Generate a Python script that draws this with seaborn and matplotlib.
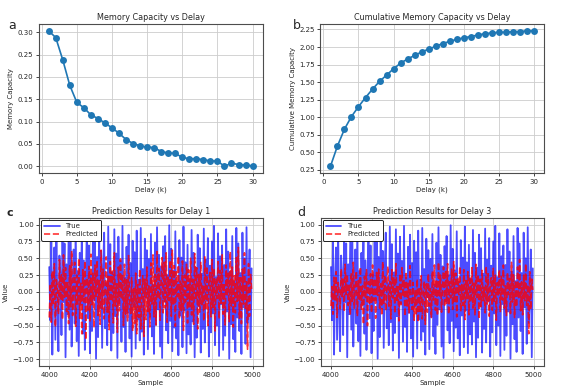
import matplotlib
matplotlib.use("Agg")
import matplotlib.pyplot as plt
import numpy as np
import seaborn as sns

# memory capacity per delay (panel a) and cumulative (panel b)
delays = list(range(1, 31))
memory_capacity = [0.303, 0.288, 0.238, 0.181, 0.143, 0.131, 0.115, 0.107, 0.097, 0.086,
                   0.074, 0.060, 0.051, 0.046, 0.043, 0.042, 0.033, 0.030, 0.029, 0.020,
                   0.017, 0.017, 0.015, 0.012, 0.012, 0.000, 0.007, 0.004, 0.003, 0.001]
cumulative_mc = [0.30, 0.59, 0.83, 1.01, 1.15, 1.28, 1.40, 1.51, 1.60, 1.69,
                 1.77, 1.83, 1.88, 1.93, 1.97, 2.01, 2.05, 2.08, 2.11, 2.13,
                 2.15, 2.17, 2.19, 2.20, 2.21, 2.21, 2.22, 2.22, 2.23, 2.23]

# test samples (every 5th sample shown)
samples = list(range(4000, 5000, 5))

true_signal = [
    0.37, -0.42, 0.81, -0.93, 0.12, 0.66, -0.71, 0.95, -0.28, -0.88, 0.54, 0.23, -0.64, 0.89, -0.15, 0.72, -0.97, 0.41, -0.33, 0.78,
    -0.56, 0.92, -0.81, 0.08, 0.63, -0.47, 0.99, -0.73, 0.31, -0.95, 0.58, -0.19, 0.84, -0.62, 0.47, -0.86, 0.17, 0.96, -0.39, 0.69,
    -0.91, 0.26, -0.58, 0.87, -0.12, 0.74, -0.99, 0.52, -0.67, 0.94, -0.24, 0.61, -0.83, 0.35, 0.88, -0.54, 0.13, -0.79, 0.97, -0.45,
    0.71, -0.87, 0.29, -0.61, 0.93, -0.36, 0.57, -0.98, 0.82, -0.17, 0.46, -0.74, 0.98, -0.52, 0.21, -0.89, 0.67, -0.31, 0.85, -0.69,
    0.43, -0.96, 0.76, -0.22, 0.59, -0.84, 0.91, -0.41, 0.18, -0.72, 0.95, -0.59, 0.34, -0.93, 0.79, -0.08, 0.62, -0.85, 0.49, -0.37,
    0.86, -0.66, 0.11, -0.92, 0.73, -0.49, 0.96, -0.26, 0.55, -0.81, 0.38, -0.98, 0.68, -0.14, 0.83, -0.57, 0.25, -0.76, 0.99, -0.43,
    0.64, -0.88, 0.32, -0.53, 0.90, -0.69, 0.15, -0.94, 0.77, -0.35, 0.51, -0.82, 0.97, -0.27, 0.44, -0.91, 0.70, -0.63, 0.19, -0.78,
    0.92, -0.44, 0.58, -0.97, 0.36, -0.68, 0.85, -0.21, 0.65, -0.90, 0.27, -0.55, 0.94, -0.75, 0.48, -0.13, 0.80, -0.96, 0.39, -0.60,
    0.75, -0.32, 0.98, -0.79, 0.22, -0.50, 0.87, -0.95, 0.53, -0.18, 0.69, -0.86, 0.40, -0.65, 0.93, -0.29, 0.60, -0.99, 0.30, -0.48,
    0.83, -0.70, 0.16, -0.89, 0.95, -0.38, 0.72, -0.58, 0.28, -0.92, 0.88, -0.23, 0.50, -0.77, 0.96, -0.46, -0.12, 0.63, -0.97, 0.35,
]

pred_delay1 = [
    -0.38, 0.12, -0.45, 0.31, -0.20, 0.42, -0.52, 0.18, 0.05, -0.33, 0.48, -0.12, 0.27, -0.41, 0.55, -0.08, 0.36, -0.29, 0.15, -0.47,
    0.39, -0.22, 0.61, -0.35, 0.09, 0.44, -0.51, 0.25, -0.18, 0.50, -0.39, 0.13, -0.62, 0.33, -0.15, 0.46, -0.71, 0.21, -0.27, 0.38,
    -0.44, 0.56, -0.19, 0.29, -0.53, 0.40, -0.08, 0.47, -0.35, 0.17, -0.48, 0.62, -0.25, 0.34, -0.40, 0.07, 0.52, -0.30, 0.23, -0.56,
    0.45, -0.14, 0.31, -0.46, 0.58, -0.21, 0.12, -0.60, 0.37, -0.28, 0.49, -0.11, 0.26, -0.50, 0.41, -0.33, 0.18, -0.43, 0.54, -0.16,
    -0.32, 0.21, -0.58, 0.05, -0.47, 0.28, -0.62, 0.11, -0.38, 0.34, -0.55, -0.02, 0.24, -0.66, 0.19, -0.41, 0.37, -0.29, 0.09, -0.52,
    0.43, -0.18, 0.55, -0.37, 0.26, -0.49, 0.60, -0.10, 0.35, -0.42, 0.17, 0.51, -0.31, 0.44, -0.24, 0.58, -0.45, 0.22, -0.13, 0.47,
    -0.36, 0.62, -0.20, 0.39, -0.51, 0.30, -0.07, 0.53, -0.40, 0.16, -0.28, 0.46, -0.57, 0.25, -0.15, 0.41, -0.46, 0.33, -0.22, 0.50,
    -0.34, 0.19, -0.48, 0.57, -0.12, 0.36, -0.55, 0.27, -0.30, 0.44, -0.19, 0.10, -0.43, 0.52, -0.26, 0.38, -0.50, 0.14, 0.29, -0.37,
    0.48, -0.23, 0.35, -0.58, 0.20, -0.10, 0.45, -0.40, 0.32, -0.17, 0.55, -0.33, 0.13, -0.49, 0.40, -0.06, 0.28, -0.44, 0.60, -0.21,
    0.37, -0.52, 0.24, -0.31, 0.51, -0.14, 0.66, -0.39, 0.21, -0.47, 0.34, -0.18, 0.58, -0.27, 0.15, -0.85, 0.42, -0.36, 0.26, 0.04,
]

pred_delay3 = [
    -0.21, 0.08, -0.33, 0.22, -0.12, 0.30, -0.38, 0.14, 0.02, -0.25, 0.34, -0.07, 0.19, -0.29, 0.41, -0.04, 0.26, -0.20, 0.10, -0.34,
    0.28, -0.15, 0.44, -0.24, 0.06, 0.31, -0.36, 0.17, -0.11, 0.37, -0.27, 0.09, -0.48, 0.23, -0.10, 0.33, -0.50, 0.15, -0.19, 0.27,
    -0.31, 0.40, -0.13, 0.20, -0.39, 0.29, -0.05, 0.34, -0.24, 0.12, -0.35, 0.45, -0.17, 0.25, -0.28, 0.05, 0.38, -0.21, 0.16, -0.40,
    0.33, -0.09, 0.22, -0.32, 0.42, -0.15, 0.08, -0.43, 0.27, -0.19, 0.36, -0.07, 0.18, -0.36, 0.30, -0.23, 0.13, -0.31, 0.39, -0.11,
    -0.26, 0.14, -0.42, 0.02, -0.35, 0.19, -0.45, 0.07, -0.29, 0.24, -0.40, -0.03, 0.16, -0.48, 0.12, -0.30, 0.27, -0.21, 0.05, -0.38,
    0.31, -0.12, 0.40, -0.27, 0.18, -0.35, 0.44, -0.06, 0.25, -0.30, 0.12, 0.37, -0.22, 0.32, -0.17, 0.42, -0.33, 0.15, -0.09, 0.34,
    -0.26, 0.45, -0.14, 0.28, -0.37, 0.21, -0.04, 0.38, -0.29, 0.11, -0.20, 0.33, -0.41, 0.17, -0.10, 0.30, -0.34, 0.23, -0.15, 0.36,
    -0.24, 0.13, -0.35, 0.41, -0.08, 0.26, -0.40, 0.19, -0.22, 0.32, -0.13, 0.07, -0.31, 0.38, -0.18, 0.27, -0.36, 0.10, 0.21, -0.27,
    0.35, -0.16, 0.25, -0.42, 0.14, -0.06, 0.33, -0.29, 0.23, -0.12, 0.40, -0.24, 0.09, -0.35, 0.29, -0.04, 0.20, -0.32, 0.44, -0.15,
    0.27, -0.38, 0.17, -0.22, 0.37, -0.10, 0.48, -0.28, 0.15, -0.34, 0.25, -0.13, 0.42, -0.20, 0.11, -0.62, 0.30, -0.26, 0.19, 0.03,
]

sns.set_style("ticks", {"axes.edgecolor": "0.2"})
plt.rcParams.update({
    "font.size": 5,
    "axes.linewidth": 0.8,
    "xtick.labelsize": 5,
    "ytick.labelsize": 5,
    "xtick.major.size": 2,
    "ytick.major.size": 2,
    "xtick.major.width": 0.6,
    "ytick.major.width": 0.6,
    "xtick.major.pad": 2,
    "ytick.major.pad": 2,
})

fig, axes = plt.subplots(2, 2, figsize=(5.75, 3.89), dpi=100)
ax_a, ax_b, ax_c, ax_d = axes.flatten()
ax_a.set_position([0.067, 0.555, 0.39, 0.383])
ax_b.set_position([0.557, 0.555, 0.389, 0.383])
ax_c.set_position([0.068, 0.059, 0.389, 0.381])
ax_d.set_position([0.558, 0.059, 0.388, 0.381])

blue = "#1f77b4"
sns.lineplot(x=delays, y=memory_capacity, ax=ax_a, color=blue, marker="o",
             markersize=5, markeredgewidth=0, linewidth=1.2)
ax_a.set_title("Memory Capacity vs Delay", fontsize=5.8, pad=3)
ax_a.set_xlabel("Delay (k)", fontsize=5, labelpad=1.5)
ax_a.set_ylabel("Memory Capacity", fontsize=5, labelpad=2)
ax_a.set_xticks([0, 5, 10, 15, 20, 25, 30])

sns.lineplot(x=delays, y=cumulative_mc, ax=ax_b, color=blue, marker="o",
             markersize=5, markeredgewidth=0, linewidth=1.2)
ax_b.set_title("Cumulative Memory Capacity vs Delay", fontsize=5.8, pad=3)
ax_b.set_xlabel("Delay (k)", fontsize=5, labelpad=1.5)
ax_b.set_ylabel("Cumulative Memory Capacity", fontsize=5, labelpad=2)
ax_b.set_xticks([0, 5, 10, 15, 20, 25, 30])
ax_b.set_yticks([0.25, 0.5, 0.75, 1.0, 1.25, 1.5, 1.75, 2.0, 2.25])

for ax, pred, d in [(ax_c, pred_delay1, 1), (ax_d, pred_delay3, 3)]:
    sns.lineplot(x=samples, y=true_signal, ax=ax, color="blue", alpha=0.7,
                 linewidth=1.3, label="True")
    sns.lineplot(x=samples, y=pred, ax=ax, color="red", alpha=0.8,
                 linewidth=1.2, linestyle="--", label="Predicted")
    ax.set_title(f"Prediction Results for Delay {d}", fontsize=5.8, pad=3)
    ax.set_xlabel("Sample", fontsize=5, labelpad=1.5)
    ax.set_ylabel("Value", fontsize=5, labelpad=2)
    ax.set_yticks([-1.0, -0.75, -0.5, -0.25, 0.0, 0.25, 0.5, 0.75, 1.0])
    ax.set_xticks([4000, 4200, 4400, 4600, 4800, 5000])
    ax.set_xlim(3950, 5050)
    ax.set_ylim(-1.1, 1.1)
    leg = ax.legend(loc="upper left", fontsize=5, frameon=True, fancybox=True,
                    borderpad=0.45, handlelength=2.2, labelspacing=0.35,
                    borderaxespad=0.3)
    leg.get_frame().set_edgecolor("black")
    leg.get_frame().set_linewidth(0.6)
    leg.get_frame().set_alpha(1)

for ax in axes.flatten():
    ax.grid(True, color="#cccccc", linewidth=0.6)
    ax.set_axisbelow(True)
    for s in ax.spines.values():
        s.set_color("0.3")

fig.text(0.014, 0.925, "a", fontsize=9)
fig.text(0.509, 0.925, "b", fontsize=9)
fig.text(0.012, 0.445, "c", fontsize=8, fontweight="bold")
fig.text(0.517, 0.445, "d", fontsize=9)

plt.savefig("out.png", dpi=100)
